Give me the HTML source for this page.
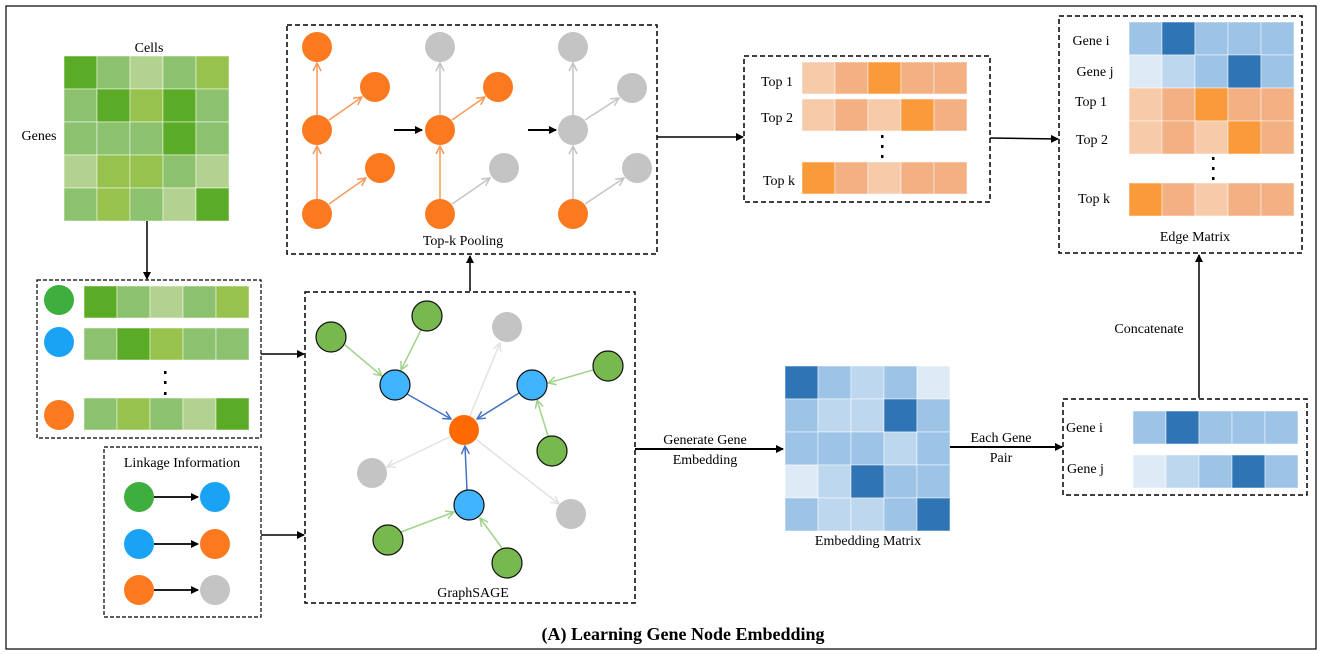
<!DOCTYPE html>
<html><head><meta charset="utf-8">
<style>
html,body{margin:0;padding:0;background:#fff;}
svg{display:block;font-family:"Liberation Serif",serif;}
text{fill:#000;}
</style></head>
<body>
<svg id="fig" width="1322" height="654" viewBox="0 0 1322 654" xmlns="http://www.w3.org/2000/svg">
<defs>
<marker id="ab" markerWidth="8" markerHeight="8" refX="7" refY="4" orient="auto" markerUnits="userSpaceOnUse"><path d="M0,0 L8,4 L0,8 z" fill="#000"/></marker>
<marker id="ao" markerWidth="10" markerHeight="10" refX="9" refY="5" orient="auto" markerUnits="userSpaceOnUse"><path d="M1,1 L9,5 L1,9" fill="none" stroke="#f79a5c" stroke-width="1.5"/></marker>
<marker id="ag" markerWidth="10" markerHeight="10" refX="9" refY="5" orient="auto" markerUnits="userSpaceOnUse"><path d="M1,1 L9,5 L1,9" fill="none" stroke="#c4c4c4" stroke-width="1.5"/></marker>
<marker id="alg" markerWidth="10" markerHeight="10" refX="9" refY="5" orient="auto" markerUnits="userSpaceOnUse"><path d="M1,1 L9,5 L1,9" fill="none" stroke="#e2e2e2" stroke-width="1.5"/></marker>
<marker id="agr" markerWidth="10" markerHeight="10" refX="9" refY="5" orient="auto" markerUnits="userSpaceOnUse"><path d="M1,1 L9,5 L1,9" fill="none" stroke="#9fd48a" stroke-width="1.5"/></marker>
<marker id="abl" markerWidth="10" markerHeight="10" refX="9" refY="5" orient="auto" markerUnits="userSpaceOnUse"><path d="M1,1 L9,5 L1,9" fill="none" stroke="#4472c4" stroke-width="1.5"/></marker>
</defs>

<rect x="6" y="6" width="1310" height="643" fill="none" stroke="#000" stroke-width="1.2"/>

<!-- gene matrix -->
<text x="149" y="52" font-size="14" text-anchor="middle">Cells</text>
<text x="39" y="140" font-size="14" text-anchor="middle">Genes</text>
<g id="geneMatrix"></g>
<line x1="147" y1="221" x2="147" y2="279" stroke="#000" stroke-width="1.5" marker-end="url(#ab)"/>

<!-- gene list box -->
<rect x="37" y="280" width="224" height="158" fill="none" stroke="#000" stroke-width="1.2" stroke-dasharray="4,2"/>
<circle cx="59" cy="300" r="15" fill="#3eae3e"/>
<circle cx="59" cy="342" r="15" fill="#1aa3f5"/>
<circle cx="59" cy="415" r="15" fill="#fb7a20"/>
<g id="geneBars"></g>
<g fill="#000"><rect x="164" y="371" width="2.5" height="3"/><rect x="164" y="381" width="2.5" height="3"/><rect x="164" y="392" width="2.5" height="3"/></g>

<!-- linkage box -->
<rect x="104" y="447" width="157" height="170" fill="none" stroke="#000" stroke-width="1.2" stroke-dasharray="4,2"/>
<text x="182" y="467" font-size="14" text-anchor="middle">Linkage Information</text>
<g>
<line x1="154" y1="497" x2="198" y2="497" stroke="#000" stroke-width="1.8" marker-end="url(#ab)"/>
<line x1="154" y1="544" x2="198" y2="544" stroke="#000" stroke-width="1.8" marker-end="url(#ab)"/>
<line x1="154" y1="590" x2="198" y2="590" stroke="#000" stroke-width="1.8" marker-end="url(#ab)"/>
<circle cx="139" cy="497" r="15" fill="#3eae3e"/><circle cx="215" cy="497" r="15" fill="#1aa3f5"/>
<circle cx="139" cy="544" r="15" fill="#1aa3f5"/><circle cx="215" cy="544" r="15" fill="#fb7a20"/>
<circle cx="139" cy="590" r="15" fill="#fb7a20"/><circle cx="215" cy="590" r="15" fill="#c4c4c4"/>
</g>
<line x1="261" y1="354" x2="304" y2="354" stroke="#000" stroke-width="1.5" marker-end="url(#ab)"/>
<line x1="261" y1="535" x2="304" y2="535" stroke="#000" stroke-width="1.5" marker-end="url(#ab)"/>

<!-- GraphSAGE -->
<rect x="305" y="292" width="330" height="311" fill="none" stroke="#000" stroke-width="1.5" stroke-dasharray="5,3"/>
<g stroke-width="1.5">
<line x1="464" y1="430" x2="500" y2="343" stroke="#e2e2e2" marker-end="url(#alg)"/>
<line x1="464" y1="430" x2="387" y2="467" stroke="#e2e2e2" marker-end="url(#alg)"/>
<line x1="464" y1="430" x2="559" y2="504" stroke="#e2e2e2" marker-end="url(#alg)"/>
<line x1="345" y1="345" x2="382" y2="376" stroke="#9fd48a" marker-end="url(#agr)"/>
<line x1="421" y1="330" x2="401" y2="370" stroke="#9fd48a" marker-end="url(#agr)"/>
<line x1="593" y1="370" x2="548" y2="383" stroke="#9fd48a" marker-end="url(#agr)"/>
<line x1="548" y1="436" x2="537" y2="400" stroke="#9fd48a" marker-end="url(#agr)"/>
<line x1="401" y1="532" x2="454" y2="512" stroke="#9fd48a" marker-end="url(#agr)"/>
<line x1="502" y1="548" x2="480" y2="518" stroke="#9fd48a" marker-end="url(#agr)"/>
<line x1="407" y1="394" x2="451" y2="419" stroke="#4472c4" marker-end="url(#abl)"/>
<line x1="519" y1="393" x2="477" y2="419" stroke="#4472c4" marker-end="url(#abl)"/>
<line x1="467" y1="490" x2="465" y2="446" stroke="#4472c4" marker-end="url(#abl)"/>
<g stroke="#111" stroke-width="1.2">
<circle cx="331" cy="337" r="15" fill="#77b94f"/>
<circle cx="427" cy="316" r="15" fill="#77b94f"/>
<circle cx="608" cy="366" r="15" fill="#77b94f"/>
<circle cx="552" cy="451" r="15" fill="#77b94f"/>
<circle cx="388" cy="540" r="15" fill="#77b94f"/>
<circle cx="507" cy="563" r="15" fill="#77b94f"/>
<circle cx="395" cy="385" r="15" fill="#40b4ff"/>
<circle cx="532" cy="385" r="15" fill="#40b4ff"/>
<circle cx="469" cy="505" r="15" fill="#40b4ff"/>
</g>
<circle cx="507" cy="327" r="15" fill="#c4c4c4" stroke="none"/>
<circle cx="372" cy="473" r="15" fill="#c4c4c4" stroke="none"/>
<circle cx="571" cy="514" r="15" fill="#c4c4c4" stroke="none"/>
<circle cx="464" cy="430" r="15" fill="#ff6a00" stroke="none"/>
</g>
<text x="473" y="597" font-size="14" text-anchor="middle">GraphSAGE</text>
<line x1="470" y1="291" x2="470" y2="256" stroke="#000" stroke-width="1.5" marker-end="url(#ab)"/>

<!-- Top-k pooling -->
<rect x="287" y="25" width="370" height="229" fill="none" stroke="#000" stroke-width="1.5" stroke-dasharray="5,3"/>
<g stroke-width="1.5">
<line x1="317" y1="116" x2="317" y2="63" stroke="#f79a5c" marker-end="url(#ao)"/>
<line x1="317" y1="200" x2="317" y2="146" stroke="#f79a5c" marker-end="url(#ao)"/>
<line x1="329" y1="120" x2="362" y2="97" stroke="#f79a5c" marker-end="url(#ao)"/>
<line x1="329" y1="204" x2="366" y2="178" stroke="#f79a5c" marker-end="url(#ao)"/>
<line x1="440" y1="116" x2="440" y2="63" stroke="#c4c4c4" marker-end="url(#ag)"/>
<line x1="440" y1="200" x2="440" y2="146" stroke="#f79a5c" marker-end="url(#ao)"/>
<line x1="452" y1="120" x2="485" y2="97" stroke="#f79a5c" marker-end="url(#ao)"/>
<line x1="452" y1="204" x2="490" y2="178" stroke="#c4c4c4" marker-end="url(#ag)"/>
<line x1="573" y1="116" x2="573" y2="63" stroke="#c4c4c4" marker-end="url(#ag)"/>
<line x1="573" y1="200" x2="573" y2="146" stroke="#c4c4c4" marker-end="url(#ag)"/>
<line x1="585" y1="120" x2="619" y2="98" stroke="#c4c4c4" marker-end="url(#ag)"/>
<line x1="585" y1="204" x2="624" y2="178" stroke="#c4c4c4" marker-end="url(#ag)"/>
<circle cx="317" cy="47" r="15" fill="#fb7a20"/><circle cx="375" cy="87" r="15" fill="#fb7a20"/><circle cx="317" cy="130" r="15" fill="#fb7a20"/><circle cx="380" cy="168" r="15" fill="#fb7a20"/><circle cx="317" cy="214" r="15" fill="#fb7a20"/>
<circle cx="440" cy="47" r="15" fill="#c4c4c4"/><circle cx="498" cy="87" r="15" fill="#fb7a20"/><circle cx="440" cy="130" r="15" fill="#fb7a20"/><circle cx="504" cy="168" r="15" fill="#c4c4c4"/><circle cx="440" cy="214" r="15" fill="#fb7a20"/>
<circle cx="573" cy="47" r="15" fill="#c4c4c4"/><circle cx="632" cy="88" r="15" fill="#c4c4c4"/><circle cx="573" cy="130" r="15" fill="#c4c4c4"/><circle cx="637" cy="168" r="15" fill="#c4c4c4"/><circle cx="573" cy="214" r="15" fill="#fb7a20"/>
<line x1="394" y1="130" x2="422" y2="130" stroke="#000" stroke-width="2" marker-end="url(#ab)"/>
<line x1="528" y1="130" x2="556" y2="130" stroke="#000" stroke-width="2" marker-end="url(#ab)"/>
</g>
<text x="463" y="245" font-size="14" text-anchor="middle">Top-k Pooling</text>
<line x1="657" y1="137" x2="743" y2="137" stroke="#000" stroke-width="1.5" marker-end="url(#ab)"/>

<!-- Top-k rows box -->
<rect x="744" y="56" width="246" height="146" fill="none" stroke="#000" stroke-width="1.5" stroke-dasharray="5,3"/>
<g id="topkRows"></g>
<text x="777" y="86" font-size="14" text-anchor="middle">Top 1</text>
<text x="777" y="122" font-size="14" text-anchor="middle">Top 2</text>
<text x="779" y="185" font-size="14" text-anchor="middle">Top k</text>
<g fill="#000"><rect x="881" y="135" width="2.5" height="3"/><rect x="881" y="145" width="2.5" height="3"/><rect x="881" y="155" width="2.5" height="3"/></g>
<line x1="990" y1="138" x2="1058" y2="139" stroke="#000" stroke-width="1.5" marker-end="url(#ab)"/>

<!-- Edge matrix -->
<rect x="1059" y="16" width="243" height="237" fill="none" stroke="#000" stroke-width="1.5" stroke-dasharray="5,3"/>
<g id="edgeRows"></g>
<text x="1091" y="45" font-size="14" text-anchor="middle">Gene i</text>
<text x="1095" y="76" font-size="14" text-anchor="middle">Gene j</text>
<text x="1091" y="106" font-size="14" text-anchor="middle">Top 1</text>
<text x="1092" y="144" font-size="14" text-anchor="middle">Top 2</text>
<text x="1094" y="203" font-size="14" text-anchor="middle">Top k</text>
<g fill="#000"><rect x="1212" y="157" width="2.5" height="3"/><rect x="1212" y="167" width="2.5" height="3"/><rect x="1212" y="177" width="2.5" height="3"/></g>
<text x="1195" y="241" font-size="14" text-anchor="middle">Edge Matrix</text>

<!-- Embedding matrix -->
<g id="embMatrix"></g>
<text x="868" y="545" font-size="14" text-anchor="middle">Embedding Matrix</text>
<line x1="635" y1="449" x2="783" y2="449" stroke="#000" stroke-width="2" marker-end="url(#ab)"/>
<text x="705" y="444" font-size="14" text-anchor="middle">Generate Gene</text>
<text x="705" y="464" font-size="14" text-anchor="middle">Embedding</text>
<line x1="950" y1="447" x2="1062" y2="447" stroke="#000" stroke-width="2" marker-end="url(#ab)"/>
<text x="1001" y="442" font-size="14" text-anchor="middle">Each Gene</text>
<text x="1001" y="462" font-size="14" text-anchor="middle">Pair</text>

<!-- pair box -->
<rect x="1063" y="399" width="244" height="96" fill="none" stroke="#000" stroke-width="1.5" stroke-dasharray="5,3"/>
<g id="pairRows"></g>
<text x="1066" y="432" font-size="14">Gene i</text>
<text x="1067" y="473" font-size="14">Gene j</text>
<line x1="1199" y1="398" x2="1199" y2="255" stroke="#000" stroke-width="1.5" marker-end="url(#ab)"/>
<text x="1149" y="333" font-size="14" text-anchor="middle">Concatenate</text>

<text x="683" y="640" font-size="18" font-weight="bold" text-anchor="middle">(A) Learning Gene Node Embedding</text>
</svg>
<script>
// colour levels
const greens = ["#b3d28f", "#8cc26e", "#98c24e", "#5aab26"];
const blues = ["#deebf7", "#bdd7ee", "#9dc3e6", "#2f75b5"];
const oranges = ["#f7cbaa", "#f2b083", "#fb9a3a"];
// data arrays
const geneMatrix = [[3,1,0,1,2],[1,3,2,3,1],[1,1,1,3,1],[0,2,2,1,0],[1,2,1,0,3]];
const geneBars = [[3,1,0,1,2],[1,3,2,1,1],[1,2,1,0,3]];
const topkRows = [[0,1,2,1,1],[0,1,0,2,1],[2,1,0,1,1]];
const pairRows = [[2,3,2,2,2],[0,1,2,3,2]];
const embMatrix = [[3,2,1,2,0],[2,1,1,3,2],[2,2,2,1,2],[0,1,3,2,2],[2,1,1,2,3]];

const NS = "http://www.w3.org/2000/svg";
function cell(g, x, y, w, h, fill, name) {
  const r = document.createElementNS(NS, "rect");
  r.setAttribute("x", x); r.setAttribute("y", y);
  r.setAttribute("width", w); r.setAttribute("height", h);
  r.setAttribute("fill", fill); r.setAttribute("stroke", "#fff"); r.setAttribute("stroke-opacity", "0.5"); r.setAttribute("stroke-width", "1");
  
  
  g.appendChild(r);
}
function grid(id, rows, palette, x0, ys, cw, ch, name) {
  const g = document.getElementById(id);
  rows.forEach((row, i) => row.forEach((v, j) => cell(g, x0 + j * cw, ys[i], cw, ch, palette[v], name + "-" + i + "-" + j)));
}
grid("geneMatrix", geneMatrix, greens, 64, [56, 89, 122, 155, 188], 33, 33, "gene-cell");
grid("geneBars", geneBars, greens, 84, [286, 328, 398], 33, 32, "gene-bar-cell");
grid("topkRows", topkRows, oranges, 802, [62, 99, 162], 33, 32, "topk-cell");
grid("edgeRows", pairRows, blues, 1129, [22, 55], 33, 33, "edge-gene-cell");
grid("edgeRows", topkRows, oranges, 1129, [88, 121, 183], 33, 33, "edge-topk-cell");
grid("embMatrix", embMatrix, blues, 785, [366, 399, 432, 465, 498], 33, 33, "embedding-cell");
grid("pairRows", pairRows, blues, 1133, [411, 455], 33, 33, "pair-cell");
</script>
</body></html>
